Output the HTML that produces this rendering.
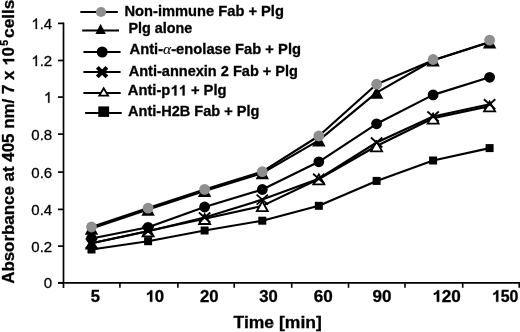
<!DOCTYPE html>
<html><head><meta charset="utf-8"><style>
html,body{margin:0;padding:0;background:#fff;width:520px;height:332px;overflow:hidden}
svg{display:block;will-change:transform}
text{font-family:"Liberation Sans",sans-serif;fill:#000;stroke:#000;stroke-width:0.3px}
</style></head><body>
<svg width="520" height="332" viewBox="0 0 520 332">
<line x1="63.5" y1="22.6" x2="63.5" y2="288" stroke="#000" stroke-width="1.7"/>
<line x1="58" y1="282.8" x2="520" y2="282.8" stroke="#000" stroke-width="1.8"/>
<line x1="58" y1="282.8" x2="63.5" y2="282.8" stroke="#000" stroke-width="1.7"/>
<g transform="translate(43.86,288.40) scale(1.0000,1)"><text x="0.00" y="0" font-size="15" style="white-space:pre">0</text></g>
<line x1="58" y1="246.1" x2="63.5" y2="246.1" stroke="#000" stroke-width="1.7"/>
<g transform="translate(31.35,251.70) scale(1.0000,1)"><text x="0.00 8.34 12.51" y="0" font-size="15" style="white-space:pre">0.2</text></g>
<line x1="58" y1="209.4" x2="63.5" y2="209.4" stroke="#000" stroke-width="1.7"/>
<g transform="translate(31.35,215.00) scale(1.0000,1)"><text x="0.00 8.34 12.51" y="0" font-size="15" style="white-space:pre">0.4</text></g>
<line x1="58" y1="172.1" x2="63.5" y2="172.1" stroke="#000" stroke-width="1.7"/>
<g transform="translate(31.35,177.70) scale(1.0000,1)"><text x="0.00 8.34 12.51" y="0" font-size="15" style="white-space:pre">0.6</text></g>
<line x1="58" y1="134.1" x2="63.5" y2="134.1" stroke="#000" stroke-width="1.7"/>
<g transform="translate(31.35,139.70) scale(1.0000,1)"><text x="0.00 8.34 12.51" y="0" font-size="15" style="white-space:pre">0.8</text></g>
<line x1="58" y1="97.1" x2="63.5" y2="97.1" stroke="#000" stroke-width="1.7"/>
<g transform="translate(43.86,102.70) scale(1.0000,1)"><text x="0.00" y="0" font-size="15" style="white-space:pre"> </text><path transform="translate(0.00,0) scale(0.00732,-0.00732)" d="M763,0H583V1147C540,1106 483,1065 413,1024C343,983 280,952 223,930V1104C324,1151 412,1208 487,1275C562,1342 615,1407 647,1472H763Z" stroke="#000" stroke-width="0.3" vector-effect="non-scaling-stroke"/></g>
<line x1="58" y1="60.5" x2="63.5" y2="60.5" stroke="#000" stroke-width="1.7"/>
<g transform="translate(31.35,66.10) scale(1.0000,1)"><text x="0.00 8.34 12.51" y="0" font-size="15" style="white-space:pre"> .2</text><path transform="translate(0.00,0) scale(0.00732,-0.00732)" d="M763,0H583V1147C540,1106 483,1065 413,1024C343,983 280,952 223,930V1104C324,1151 412,1208 487,1275C562,1342 615,1407 647,1472H763Z" stroke="#000" stroke-width="0.3" vector-effect="non-scaling-stroke"/></g>
<line x1="58" y1="23.4" x2="63.5" y2="23.4" stroke="#000" stroke-width="1.7"/>
<g transform="translate(31.35,29.00) scale(1.0000,1)"><text x="0.00 8.34 12.51" y="0" font-size="15" style="white-space:pre"> .4</text><path transform="translate(0.00,0) scale(0.00732,-0.00732)" d="M763,0H583V1147C540,1106 483,1065 413,1024C343,983 280,952 223,930V1104C324,1151 412,1208 487,1275C562,1342 615,1407 647,1472H763Z" stroke="#000" stroke-width="0.3" vector-effect="non-scaling-stroke"/></g>
<line x1="119.9" y1="282.8" x2="119.9" y2="287.8" stroke="#000" stroke-width="1.6"/>
<line x1="177.9" y1="282.8" x2="177.9" y2="287.8" stroke="#000" stroke-width="1.6"/>
<line x1="234.2" y1="282.8" x2="234.2" y2="287.8" stroke="#000" stroke-width="1.6"/>
<line x1="291.7" y1="282.8" x2="291.7" y2="287.8" stroke="#000" stroke-width="1.6"/>
<line x1="348.5" y1="282.8" x2="348.5" y2="287.8" stroke="#000" stroke-width="1.6"/>
<line x1="405" y1="282.8" x2="405" y2="287.8" stroke="#000" stroke-width="1.6"/>
<line x1="462.7" y1="282.8" x2="462.7" y2="287.8" stroke="#000" stroke-width="1.6"/>
<line x1="519.2" y1="282.8" x2="519.2" y2="287.8" stroke="#000" stroke-width="1.6"/>
<g transform="translate(90.79,301.80) scale(1.0300,1)"><text x="0.00" y="0" font-size="16" font-weight="bold" style="white-space:pre">5</text></g>
<g transform="translate(145.38,301.80) scale(1.0512,1)"><text x="0.00 8.90" y="0" font-size="16" font-weight="bold" style="white-space:pre"> 0</text><path transform="translate(0.00,0) scale(0.00781,-0.00781)" d="M841,0H560V1059C494,997 415,948 323,912C275,893 233,880 197,870V1101C259,1121 327,1154 400,1201C505,1268 577,1358 613,1472H841Z" stroke="#000" stroke-width="0.3" vector-effect="non-scaling-stroke"/></g>
<g transform="translate(199.92,301.80) scale(1.0491,1)"><text x="0.00 8.90" y="0" font-size="16" font-weight="bold" style="white-space:pre">20</text></g>
<g transform="translate(259.32,301.80) scale(1.0433,1)"><text x="0.00 8.90" y="0" font-size="16" font-weight="bold" style="white-space:pre">30</text></g>
<g transform="translate(313.67,301.80) scale(1.0692,1)"><text x="0.00 8.90" y="0" font-size="16" font-weight="bold" style="white-space:pre">60</text></g>
<g transform="translate(372.41,301.80) scale(1.0672,1)"><text x="0.00 8.90" y="0" font-size="16" font-weight="bold" style="white-space:pre">90</text></g>
<g transform="translate(432.15,301.80) scale(1.0735,1)"><text x="0.00 8.90 17.80" y="0" font-size="16" font-weight="bold" style="white-space:pre"> 20</text><path transform="translate(0.00,0) scale(0.00781,-0.00781)" d="M841,0H560V1059C494,997 415,948 323,912C275,893 233,880 197,870V1101C259,1121 327,1154 400,1201C505,1268 577,1358 613,1472H841Z" stroke="#000" stroke-width="0.3" vector-effect="non-scaling-stroke"/></g>
<g transform="translate(491.77,301.80) scale(0.9959,1)"><text x="0.00 8.90 17.80" y="0" font-size="16" font-weight="bold" style="white-space:pre"> 50</text><path transform="translate(0.00,0) scale(0.00781,-0.00781)" d="M841,0H560V1059C494,997 415,948 323,912C275,893 233,880 197,870V1101C259,1121 327,1154 400,1201C505,1268 577,1358 613,1472H841Z" stroke="#000" stroke-width="0.3" vector-effect="non-scaling-stroke"/></g>
<text x="233.5" y="327.9" font-size="16.3" font-weight="bold" textLength="88.3" lengthAdjust="spacingAndGlyphs">Time [min]</text>
<g transform="translate(14.2,0) rotate(-90)"><g transform="translate(-283.82,0.00) scale(1.0697,1)"><text x="0.00 11.41 21.06 29.85 39.50 45.65 55.30 64.09 73.74 82.53 91.31 95.70 104.49 109.75 114.14 122.93 131.72 140.50 144.89 154.54 168.59 172.98 177.37 186.16 190.55 199.34 203.73 212.51" y="0" font-size="15.8" font-weight="bold" style="white-space:pre">Absorbance at 405 nm/ 7 x  0</text><path transform="translate(203.73,0) scale(0.00771,-0.00771)" d="M841,0H560V1059C494,997 415,948 323,912C275,893 233,880 197,870V1101C259,1121 327,1154 400,1201C505,1268 577,1358 613,1472H841Z" stroke="#000" stroke-width="0.3" vector-effect="non-scaling-stroke"/></g><text x="-45.8" y="-6.4" font-size="10.6" font-weight="bold">5</text><text x="-38" y="0" font-size="15.8" font-weight="bold" textLength="38.5" lengthAdjust="spacingAndGlyphs">cells</text></g>
<polyline points="91.5,249.5 148.1,241.2 204.6,230.5 262.3,220.7 318.8,205.8 376.6,180.9 433.1,160.5 489.6,148.1" fill="none" stroke="#000" stroke-width="2.15" stroke-linejoin="round"/>
<rect x="87.5" y="245.5" width="8" height="8" fill="#000"/>
<rect x="144.1" y="237.2" width="8" height="8" fill="#000"/>
<rect x="200.6" y="226.5" width="8" height="8" fill="#000"/>
<rect x="258.3" y="216.7" width="8" height="8" fill="#000"/>
<rect x="314.8" y="201.8" width="8" height="8" fill="#000"/>
<rect x="372.6" y="176.9" width="8" height="8" fill="#000"/>
<rect x="429.1" y="156.5" width="8" height="8" fill="#000"/>
<rect x="485.6" y="144.1" width="8" height="8" fill="#000"/>
<polyline points="91.5,243.3 148.1,231 204.6,218.7 262.3,205.9 318.8,179 376.6,146 433.1,118.3 489.6,106.1" fill="none" stroke="#000" stroke-width="2.15" stroke-linejoin="round"/>
<polygon points="91.5,237.10000000000002 84.8,249.50000000000003 98.2,249.50000000000003" fill="#000"/>
<polygon points="148.1,226.4 142.6,236.3 153.6,236.3" fill="#fff" stroke="#000" stroke-width="1.8"/>
<polygon points="204.6,214.1 199.1,224.0 210.1,224.0" fill="#fff" stroke="#000" stroke-width="1.8"/>
<polygon points="262.3,201.3 256.8,211.20000000000002 267.8,211.20000000000002" fill="#fff" stroke="#000" stroke-width="1.8"/>
<polygon points="318.8,174.4 313.3,184.3 324.3,184.3" fill="#fff" stroke="#000" stroke-width="1.8"/>
<polygon points="376.6,141.4 371.1,151.3 382.1,151.3" fill="#fff" stroke="#000" stroke-width="1.8"/>
<polygon points="433.1,113.69999999999999 427.6,123.6 438.6,123.6" fill="#fff" stroke="#000" stroke-width="1.8"/>
<polygon points="489.6,101.49999999999999 484.1,111.39999999999999 495.1,111.39999999999999" fill="#fff" stroke="#000" stroke-width="1.8"/>
<polyline points="91.5,243.3 148.1,231.3 204.6,217.5 262.3,199.6 318.8,178.7 376.6,142.5 433.1,116.5 489.6,104.2" fill="none" stroke="#000" stroke-width="2.15" stroke-linejoin="round"/>
<path d="M85.8,238.3L97.2,248.3M97.2,238.3L85.8,248.3" stroke="#000" stroke-width="1.8" fill="none"/>
<path d="M142.4,226.3L153.79999999999998,236.3M153.79999999999998,226.3L142.4,236.3" stroke="#000" stroke-width="1.8" fill="none"/>
<path d="M198.9,212.5L210.29999999999998,222.5M210.29999999999998,212.5L198.9,222.5" stroke="#000" stroke-width="1.8" fill="none"/>
<path d="M256.6,194.6L268.0,204.6M268.0,194.6L256.6,204.6" stroke="#000" stroke-width="1.8" fill="none"/>
<path d="M313.1,173.7L324.5,183.7M324.5,173.7L313.1,183.7" stroke="#000" stroke-width="1.8" fill="none"/>
<path d="M370.90000000000003,137.5L382.3,147.5M382.3,137.5L370.90000000000003,147.5" stroke="#000" stroke-width="1.8" fill="none"/>
<path d="M427.40000000000003,111.5L438.8,121.5M438.8,111.5L427.40000000000003,121.5" stroke="#000" stroke-width="1.8" fill="none"/>
<path d="M483.90000000000003,99.2L495.3,109.2M495.3,99.2L483.90000000000003,109.2" stroke="#000" stroke-width="1.8" fill="none"/>
<polyline points="91.5,238.5 148.1,227.3 204.6,207 262.3,189.5 318.8,161.8 376.6,123.8 433.1,94.9 489.6,77.3" fill="none" stroke="#000" stroke-width="2.15" stroke-linejoin="round"/>
<circle cx="91.5" cy="238.5" r="5.4" fill="#000"/>
<circle cx="148.1" cy="227.3" r="5.4" fill="#000"/>
<circle cx="204.6" cy="207" r="5.4" fill="#000"/>
<circle cx="262.3" cy="189.5" r="5.4" fill="#000"/>
<circle cx="318.8" cy="161.8" r="5.4" fill="#000"/>
<circle cx="376.6" cy="123.8" r="5.4" fill="#000"/>
<circle cx="433.1" cy="94.9" r="5.4" fill="#000"/>
<circle cx="489.6" cy="77.3" r="5.4" fill="#000"/>
<polyline points="91.5,228.5 148.1,209.6 204.6,190.9 262.3,173.1 318.8,140.4 376.6,92.6 433.1,60.2 489.6,42.3" fill="none" stroke="#000" stroke-width="2.15" stroke-linejoin="round"/>
<polygon points="91.5,222.3 84.8,234.70000000000002 98.2,234.70000000000002" fill="#000"/>
<polygon points="148.1,203.4 141.4,215.8 154.79999999999998,215.8" fill="#000"/>
<polygon points="204.6,184.70000000000002 197.9,197.10000000000002 211.29999999999998,197.10000000000002" fill="#000"/>
<polygon points="262.3,166.9 255.60000000000002,179.3 269.0,179.3" fill="#000"/>
<polygon points="318.8,134.20000000000002 312.1,146.60000000000002 325.5,146.60000000000002" fill="#000"/>
<polygon points="376.6,86.39999999999999 369.90000000000003,98.8 383.3,98.8" fill="#000"/>
<polygon points="433.1,54.0 426.40000000000003,66.4 439.8,66.4" fill="#000"/>
<polygon points="489.6,36.099999999999994 482.90000000000003,48.49999999999999 496.3,48.49999999999999" fill="#000"/>
<polyline points="91.5,227 148.1,208.1 204.6,189.4 262.3,171.6 318.8,136 376.6,84.2 433.1,60.3 489.6,42.0" fill="none" stroke="#000" stroke-width="2.15" stroke-linejoin="round"/>
<circle cx="91.5" cy="227" r="5.4" fill="#8f8f8f"/>
<circle cx="148.1" cy="208.1" r="5.4" fill="#8f8f8f"/>
<circle cx="204.6" cy="189.4" r="5.4" fill="#8f8f8f"/>
<circle cx="262.3" cy="171.6" r="5.4" fill="#8f8f8f"/>
<circle cx="318.8" cy="136" r="5.4" fill="#8f8f8f"/>
<circle cx="376.6" cy="84.2" r="5.4" fill="#8f8f8f"/>
<circle cx="433.1" cy="59.5" r="5.4" fill="#8f8f8f"/>
<circle cx="489.6" cy="40.1" r="5.4" fill="#8f8f8f"/>
<line x1="80.3" y1="12" x2="117.8" y2="12" stroke="#000" stroke-width="2"/>
<circle cx="101" cy="12" r="5.1" fill="#8f8f8f"/>
<line x1="82.2" y1="30.4" x2="119" y2="30.4" stroke="#000" stroke-width="2"/>
<polygon points="100.6,23.7 95.4,34 105.9,34" fill="#000"/>
<line x1="83.4" y1="51.9" x2="120.6" y2="51.9" stroke="#000" stroke-width="2"/>
<circle cx="102.2" cy="52" r="5.5" fill="#000"/>
<line x1="83.4" y1="72" x2="120.6" y2="72" stroke="#000" stroke-width="2"/>
<path d="M97.3,67.3L106.9,76.9M106.9,67.3L97.3,76.9" stroke="#000" stroke-width="4"/>
<line x1="83.4" y1="93.1" x2="120.7" y2="93.1" stroke="#000" stroke-width="2"/>
<polygon points="103.7,88.2 99.3,95.6 108.1,95.6" fill="#fff" stroke="#000" stroke-width="1.8"/>
<line x1="85.1" y1="112.9" x2="121.7" y2="112.9" stroke="#000" stroke-width="2"/>
<rect x="98.3" y="106.4" width="10.8" height="10.5" fill="#000"/>
<text x="124.5" y="15.8" font-size="14.2" font-weight="bold" textLength="159.4" lengthAdjust="spacingAndGlyphs">Non-immune Fab + Plg</text>
<text x="128.5" y="32.6" font-size="14.2" font-weight="bold" textLength="63.8" lengthAdjust="spacingAndGlyphs">Plg alone</text>
<text x="129.5" y="53.8" font-size="14.2" font-weight="bold" textLength="171.5" lengthAdjust="spacingAndGlyphs">Anti-<tspan font-family="Liberation Serif" font-style="italic" font-weight="normal" font-size="15" style="stroke-width:0.15px">α</tspan>-enolase Fab + Plg</text>
<text x="128.7" y="75.6" font-size="14.2" font-weight="bold" textLength="169.3" lengthAdjust="spacingAndGlyphs">Anti-annexin 2 Fab + Plg</text>
<g transform="translate(127.73,95.40) scale(1.0398,1)"><text x="0.00 10.25 18.93 23.66 27.60 32.33 41.01 48.90 56.80 60.75 69.04 72.98 82.45 86.40" y="0" font-size="14.2" font-weight="bold" style="white-space:pre">Anti-p   + Plg</text><path transform="translate(41.01,0) scale(0.00693,-0.00693)" d="M841,0H560V1059C494,997 415,948 323,912C275,893 233,880 197,870V1101C259,1121 327,1154 400,1201C505,1268 577,1358 613,1472H841Z" stroke="#000" stroke-width="0.3" vector-effect="non-scaling-stroke"/><path transform="translate(48.90,0) scale(0.00693,-0.00693)" d="M841,0H560V1059C494,997 415,948 323,912C275,893 233,880 197,870V1101C259,1121 327,1154 400,1201C505,1268 577,1358 613,1472H841Z" stroke="#000" stroke-width="0.3" vector-effect="non-scaling-stroke"/></g>
<text x="128.1" y="116.2" font-size="14.2" font-weight="bold" textLength="131.3" lengthAdjust="spacingAndGlyphs">Anti-H2B Fab + Plg</text>
</svg>
</body></html>
